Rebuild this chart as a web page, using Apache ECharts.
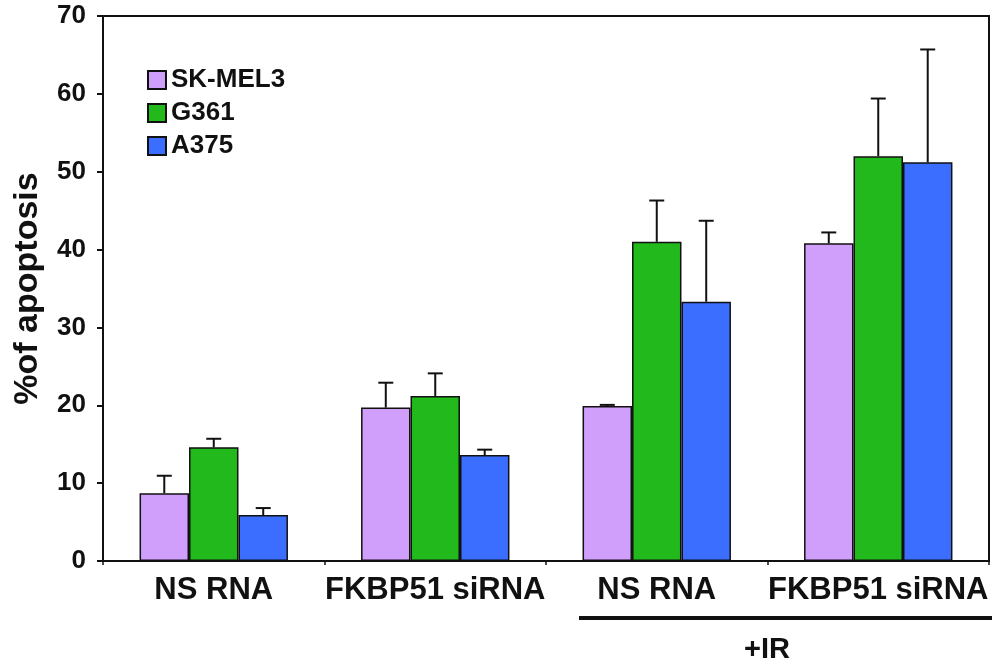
<!DOCTYPE html>
<html><head><meta charset="utf-8">
<script src="https://cdn.jsdelivr.net/npm/echarts@6/dist/echarts.min.js"></script>
<style>html,body{margin:0;padding:0;background:#fff}#c{width:995px;height:664px}</style>
</head><body><div id="c"></div>
<script>
const categories = ['NS RNA', 'FKBP51 siRNA', 'NS RNA', 'FKBP51 siRNA'];
const seriesNames = ['SK-MEL3', 'G361', 'A375'];
const skmel3 = [8.7, 19.7, 19.9, 40.8];
const g361 = [14.6, 21.2, 41.0, 52.0];
const a375 = [5.9, 13.6, 33.3, 51.2];
const skmel3Err = [2.25, 3.2, 0.15, 1.4];
const g361Err = [1.1, 2.9, 5.3, 7.4];
const a375Err = [0.9, 0.7, 10.4, 14.5];
const yTicks = [0, 10, 20, 30, 40, 50, 60, 70];

const colors = ['#d09ffc', '#22b91c', '#3b6dfe'];
const values = [skmel3, g361, a375];
const errs = [skmel3Err, g361Err, a375Err];
const FONT = 'Liberation Sans, Arial, sans-serif';

const chart = echarts.init(document.getElementById('c'));
const series = [];
values.forEach((v, i) => {
  series.push({
    name: seriesNames[i], type: 'bar', data: v,
    barGap: '0%', barCategoryGap: '33%',
    itemStyle: { color: colors[i], borderColor: '#111', borderWidth: 1.5 },
    emphasis: { disabled: true }
  });
});
values.forEach((v, i) => {
  series.push({
    type: 'custom', z: 5, silent: true,
    data: v.map((val, j) => [j, val, val + errs[i][j]]),
    renderItem: function (params, api) {
      const band = api.size([1, 0])[0];
      const bw = band * 0.67 / 3;
      const c0 = api.coord([api.value(0), api.value(1)]);
      const c1 = api.coord([api.value(0), api.value(2)]);
      const x = c0[0] + (i - 1) * bw;
      const cap = 7.5;
      return {
        type: 'group',
        children: [
          { type: 'line', shape: { x1: x, y1: c0[1], x2: x, y2: c1[1] }, style: { stroke: '#111', lineWidth: 2 } },
          { type: 'line', shape: { x1: x - cap, y1: c1[1], x2: x + cap, y2: c1[1] }, style: { stroke: '#111', lineWidth: 2 } }
        ]
      };
    }
  });
});

chart.setOption({
  animation: false,
  grid: { left: 103, right: 6, top: 16, bottom: 103, show: true, borderColor: '#111', borderWidth: 2, backgroundColor: 'transparent' },
  legend: {
    data: seriesNames, orient: 'vertical', left: 142, top: 62,
    itemWidth: 18, itemHeight: 18, itemGap: 7, icon: 'rect',
    textStyle: { fontFamily: FONT, fontWeight: 'bold', fontSize: 26, color: '#111', padding: [2, 0, 0, 0] }
  },
  xAxis: {
    type: 'category', data: categories,
    axisLine: { lineStyle: { color: '#111', width: 2 } },
    axisTick: { show: true, length: 4, lineStyle: { color: '#111', width: 1.5 } },
    axisLabel: { interval: 0, hideOverlap: false, fontFamily: FONT, fontWeight: 'bold', fontSize: 31, color: '#111', margin: 14 }
  },
  yAxis: {
    type: 'value', min: 0, max: 70, interval: 10,
    name: '%of apoptosis', nameLocation: 'middle', nameGap: 58,
    nameTextStyle: { fontFamily: FONT, fontWeight: 'bold', fontSize: 34, color: '#111' },
    axisLine: { show: true, lineStyle: { color: '#111', width: 2 } },
    axisTick: { show: true, length: 6, lineStyle: { color: '#111', width: 2 } },
    axisLabel: { fontFamily: FONT, fontWeight: 'bold', fontSize: 26, color: '#111', margin: 17,
      formatter: v => yTicks.includes(v) ? String(v) : '' },
    splitLine: { show: false }
  },
  graphic: [
    { type: 'line', shape: { x1: 579, y1: 618, x2: 992, y2: 618 }, style: { stroke: '#111', lineWidth: 4 } },
    { type: 'text', x: 767, y: 650, style: { text: '+IR', align: 'center', verticalAlign: 'middle', fontFamily: FONT, fontWeight: 'bold', fontSize: 29, fill: '#111' } }
  ],
  series: series
});
</script></body></html>
